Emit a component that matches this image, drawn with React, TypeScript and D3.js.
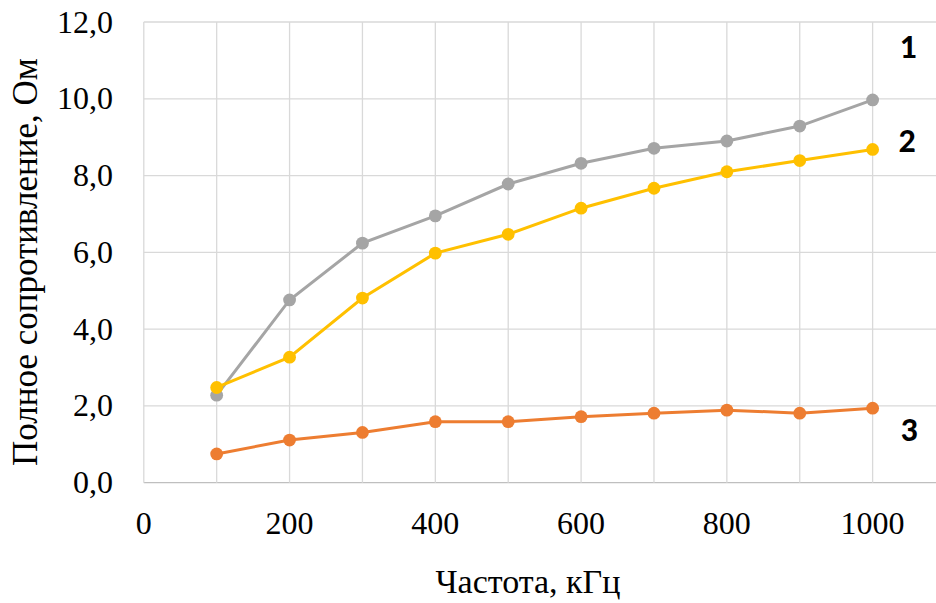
import React from "react";
import * as d3 from "d3";

const freqs = [100, 200, 300, 400, 500, 600, 700, 800, 900, 1000];
const series1 = [2.28, 4.76, 6.24, 6.95, 7.78, 8.32, 8.71, 8.9, 9.29, 9.97];
const series2 = [2.48, 3.27, 4.81, 5.98, 6.47, 7.15, 7.67, 8.1, 8.39, 8.68];
const series3 = [0.75, 1.11, 1.31, 1.59, 1.59, 1.72, 1.81, 1.89, 1.81, 1.94];
const seriesNames = ["1", "2", "3"];
const xTicks = [0, 200, 400, 600, 800, 1000];
const xGrid = [0, 100, 200, 300, 400, 500, 600, 700, 800, 900, 1000, 1100];
const yTicks = [0, 2, 4, 6, 8, 10, 12];
const xTitle = "Частота, кГц";
const yTitle = "Полное сопротивление, Ом";

const W = 936;
const H = 603;

export default function App() {
  const x = d3.scaleLinear().domain([0, 1100]).range([143.8, 945.5]);
  const y = d3.scaleLinear().domain([0, 12]).range([482.7, 22]);
  const line = d3
    .line<number>()
    .x((_, i) => x(freqs[i]))
    .y((d) => y(d));
  const fmt = (v: number) => v.toFixed(1).replace(".", ",");

  const data = [
    { vals: series1, color: "#A5A5A5", name: seriesNames[0], lx: 908, ly: 47 },
    { vals: series2, color: "#FFC000", name: seriesNames[1], lx: 907, ly: 141 },
    { vals: series3, color: "#ED7D31", name: seriesNames[2], lx: 909, ly: 430 },
  ];
  const serifStyle = { fontFamily: '"Liberation Serif"' };
  const boldStyle = { fontFamily: '"Carlito"' };

  return (
    <div style={{ position: "absolute", left: 0, top: 0 }}>
      <svg width={W} height={H} style={{ display: "block", background: "#fff" }}>
        {yTicks.map((t) => (
          <line key={"hy" + t} x1={x(0)} x2={W} y1={y(t)} y2={y(t)} stroke={t === 0 ? "#BFBFBF" : "#D9D9D9"} strokeWidth={1.3} />
        ))}
        {xGrid.map((t) => (
          <line key={"gx" + t} x1={x(t)} x2={x(t)} y1={y(12)} y2={y(0)} stroke="#D9D9D9" strokeWidth={1.3} />
        ))}
        {yTicks.map((t) => (
          <text key={"ty" + t} x={113} y={y(t)} dy="0.33em" textAnchor="end" style={serifStyle} fontSize={32} fill="#000">
            {fmt(t)}
          </text>
        ))}
        {xTicks.map((t) => (
          <text key={"tx" + t} x={x(t)} y={523} dy="0.33em" textAnchor="middle" style={serifStyle} fontSize={32} fill="#000">
            {t}
          </text>
        ))}
        <text x={528} y={582} dy="0.33em" textAnchor="middle" style={serifStyle} fontSize={34} fill="#000">
          {xTitle}
        </text>
        <text transform={`translate(25,262) rotate(-90)`} dy="0.33em" textAnchor="middle" style={serifStyle} fontSize={35} fill="#000">
          {yTitle}
        </text>
        {data.map((s) => (
          <g key={s.name}>
            <path d={line(s.vals) || ""} fill="none" stroke={s.color} strokeWidth={3} />
            {s.vals.map((v, i) => (
              <circle key={i} cx={x(freqs[i])} cy={y(v)} r={6.4} fill={s.color} />
            ))}
            <text x={s.lx} y={s.ly} dy="0.33em" textAnchor="middle" style={boldStyle} fontWeight="bold" fontSize={34} fill="#000">
              {s.name}
            </text>
          </g>
        ))}
      </svg>
    </div>
  );
}
